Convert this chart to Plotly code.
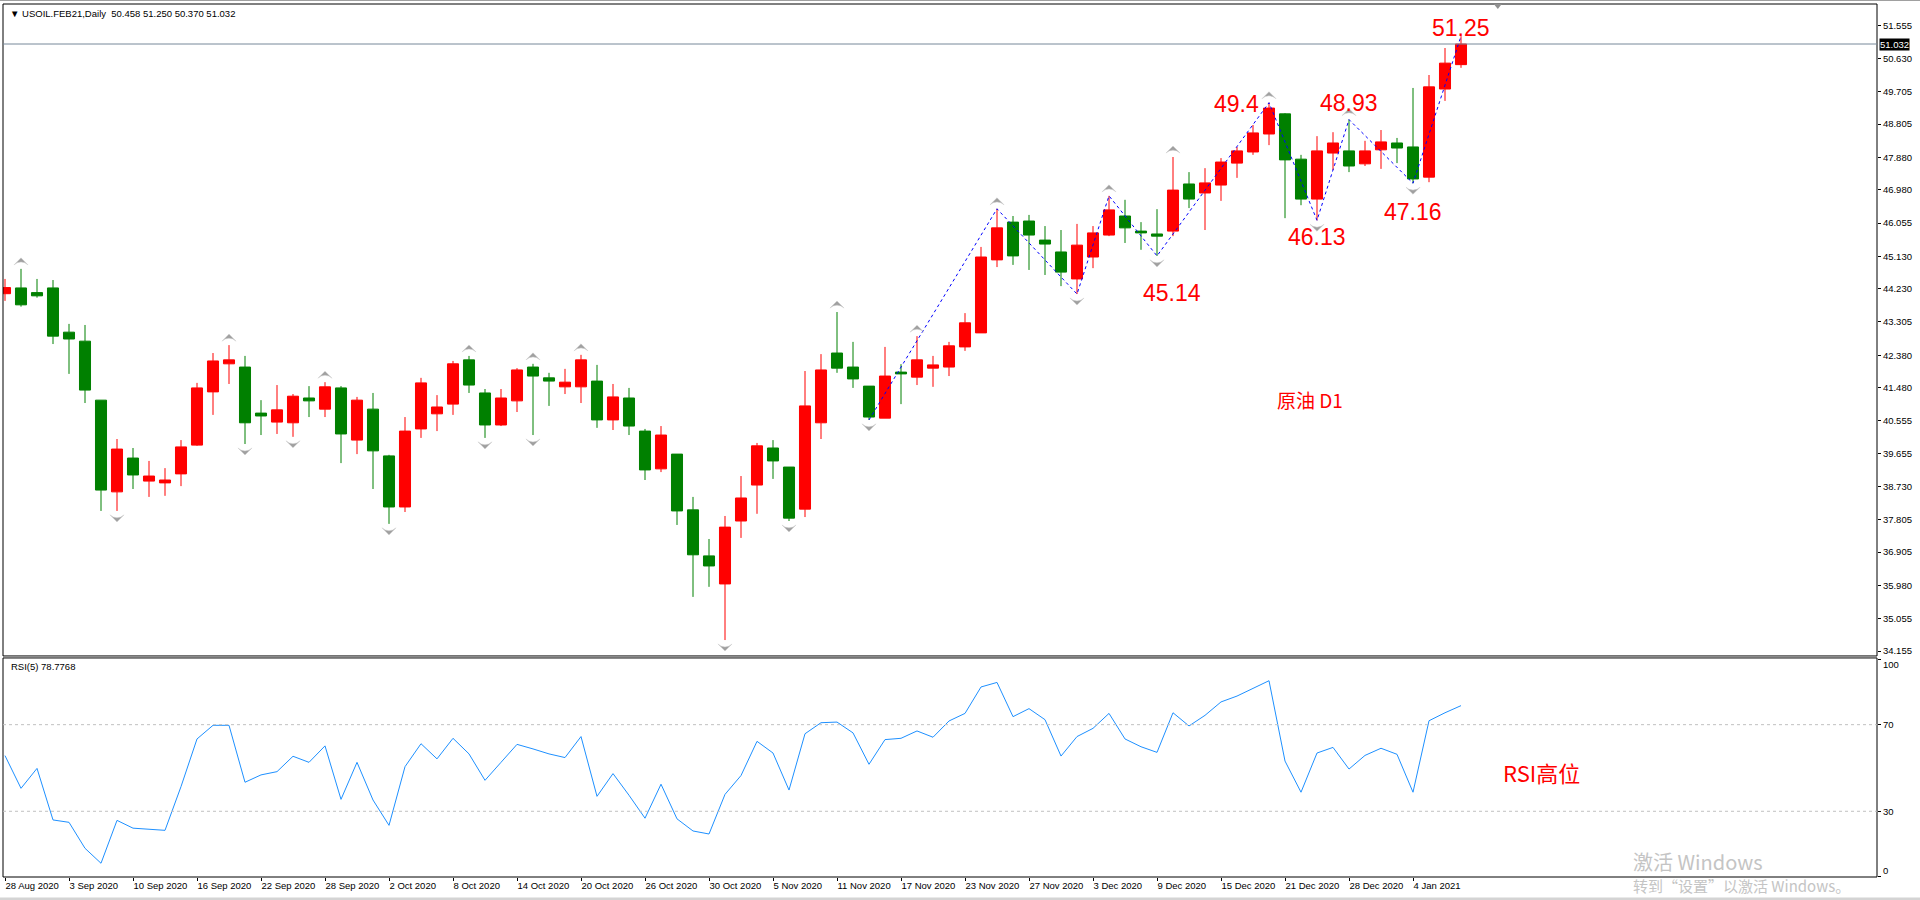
import plotly.graph_objects as go

# ---- data (USOIL.FEB21, Daily) ----
date_labels = [
    "28 Aug 2020", "3 Sep 2020", "10 Sep 2020", "16 Sep 2020", "22 Sep 2020",
    "28 Sep 2020", "2 Oct 2020", "8 Oct 2020", "14 Oct 2020", "20 Oct 2020",
    "26 Oct 2020", "30 Oct 2020", "5 Nov 2020", "11 Nov 2020", "17 Nov 2020",
    "23 Nov 2020", "27 Nov 2020", "3 Dec 2020", "9 Dec 2020", "15 Dec 2020",
    "21 Dec 2020", "28 Dec 2020", "4 Jan 2021",
]
label_every = 4

opens = [
    44.09, 44.25, 44.12, 44.25, 43.02, 42.77, 41.13, 38.58, 39.52, 38.88,
    38.83, 39.08, 39.88, 41.36, 42.14, 42.05, 40.77, 40.52, 40.50, 41.19,
    40.88, 41.47, 40.02, 40.88, 39.58, 38.16, 40.33, 40.75, 41.02, 42.25,
    41.33, 40.44, 41.11, 42.05, 41.75, 41.50, 41.50, 41.66, 40.58, 41.19,
    40.27, 39.22, 39.63, 38.08, 36.80, 36.02, 37.77, 38.77, 39.80, 39.27,
    38.10, 40.50, 42.44, 42.05, 41.52, 40.63, 41.91, 41.77, 42.02, 42.05,
    42.61, 43.00, 45.03, 46.08, 46.11, 45.58, 45.25, 44.50, 45.11, 45.72,
    46.25, 45.83, 45.75, 45.83, 47.14, 46.89, 47.11, 47.72, 48.03, 48.53,
    49.09, 47.83, 46.72, 48.00, 48.06, 47.70, 48.09, 48.28, 48.17, 47.33,
    49.78, 50.458,
]
highs = [
    44.50, 44.78, 44.50, 44.47, 43.25, 43.22, 41.13, 40.05, 39.80, 39.44,
    39.24, 40.02, 41.61, 42.44, 42.66, 42.36, 41.13, 41.55, 41.30, 41.52,
    41.63, 41.52, 41.22, 41.33, 39.61, 40.66, 41.75, 41.27, 42.22, 42.36,
    41.44, 41.44, 42.02, 42.14, 41.89, 42.00, 42.39, 42.11, 41.58, 41.47,
    40.33, 40.41, 39.63, 38.44, 37.27, 37.91, 39.02, 39.94, 40.02, 39.27,
    41.94, 42.41, 43.58, 42.75, 41.52, 42.61, 42.13, 42.91, 42.36, 42.75,
    43.55, 45.39, 46.45, 46.25, 46.28, 45.97, 45.86, 46.03, 45.97, 46.81,
    46.70, 46.08, 46.44, 47.89, 47.47, 47.58, 47.86, 48.17, 48.78, 49.40,
    49.11, 47.95, 48.47, 48.58, 48.93, 48.34, 48.64, 48.42, 49.81, 50.17,
    50.92, 51.25,
]
lows = [
    43.89, 43.73, 43.98, 42.69, 41.86, 41.05, 38.05, 38.05, 38.66, 38.44,
    38.47, 38.74, 39.86, 40.72, 41.58, 39.91, 40.16, 40.19, 40.11, 40.66,
    40.66, 39.38, 39.63, 38.66, 37.69, 38.02, 40.08, 40.27, 40.72, 41.33,
    40.08, 40.41, 40.80, 40.16, 40.97, 41.30, 41.05, 40.36, 40.30, 40.16,
    38.91, 39.13, 37.66, 35.66, 35.94, 34.46, 37.30, 37.97, 38.94, 37.77,
    37.88, 40.05, 41.89, 41.47, 40.58, 40.63, 41.02, 41.55, 41.50, 41.80,
    42.50, 43.00, 44.83, 44.89, 44.75, 44.61, 44.30, 44.08, 44.80, 45.69,
    45.50, 45.31, 45.14, 45.69, 46.47, 45.86, 46.67, 47.31, 47.95, 48.22,
    46.19, 46.55, 46.13, 47.53, 47.47, 47.64, 47.56, 47.72, 47.16, 47.19,
    49.45, 50.37,
]
closes = [
    44.26, 43.78, 44.03, 42.91, 42.83, 41.41, 38.63, 39.77, 39.05, 39.02,
    38.91, 39.83, 41.47, 42.22, 42.25, 40.50, 40.69, 40.86, 41.24, 41.11,
    41.50, 40.19, 41.13, 39.72, 38.16, 40.27, 41.61, 40.94, 42.14, 41.55,
    40.44, 41.19, 41.97, 41.80, 41.66, 41.63, 42.25, 40.58, 41.22, 40.41,
    39.19, 40.16, 38.05, 36.83, 36.52, 37.60, 38.41, 39.86, 39.44, 37.85,
    40.97, 41.97, 42.02, 41.72, 40.66, 41.80, 41.86, 42.25, 42.11, 42.64,
    43.28, 45.11, 45.92, 45.14, 45.72, 45.47, 44.69, 45.44, 45.78, 46.42,
    45.92, 45.78, 45.69, 46.97, 46.72, 47.17, 47.75, 48.06, 48.56, 49.25,
    47.81, 46.72, 48.06, 48.28, 47.64, 48.06, 48.31, 48.14, 47.28, 49.84,
    50.50, 51.032,
]
rsi = [
    55.7, 40.6, 49.8, 26.0, 24.9, 12.9, 6.0, 25.8, 22.2, 21.7,
    21.2, 41.4, 63.4, 69.7, 69.7, 43.4, 46.8, 48.3, 55.4, 52.6,
    60.2, 35.5, 52.6, 35.2, 23.5, 50.6, 61.2, 54.2, 63.7, 56.5,
    44.3, 52.6, 60.9, 58.8, 56.5, 54.8, 64.5, 36.9, 47.4, 37.4,
    26.8, 42.5, 26.5, 20.9, 19.5, 37.8, 46.5, 62.3, 56.9, 39.8,
    65.8, 70.9, 71.2, 66.2, 51.7, 63.1, 63.7, 67.1, 64.2, 71.7,
    75.2, 87.4, 89.5, 73.7, 77.4, 72.3, 55.5, 64.5, 68.3, 75.2,
    63.4, 59.8, 57.2, 75.5, 69.4, 74.3, 80.5, 83.2, 86.8, 90.3,
    53.2, 38.8, 56.9, 59.5, 49.5, 55.8, 59.1, 56.3, 38.8, 71.8,
    75.5, 78.7768,
]

price_ticks = [
    51.555, 50.630, 49.705, 48.805, 47.880, 46.980, 46.055, 45.130, 44.230,
    43.305, 42.380, 41.480, 40.555, 39.655, 38.730, 37.805, 36.905, 35.980,
    35.055, 34.155,
]
rsi_levels = [30, 70]
rsi_ticks = [0, 30, 70, 100]

# fractal arrows and zigzag pivots (bar indexes)
up_fractals = [1, 14, 20, 29, 33, 36, 52, 57, 62, 69, 73, 79, 84]
down_fractals = [7, 15, 18, 24, 30, 33, 45, 49, 54, 67, 72, 82, 88]
zigzag_pivots = [(54, "L"), (62, "H"), (67, "L"), (69, "H"), (72, "L"),
                 (79, "H"), (82, "L"), (84, "H"), (88, "L"), (91, "H")]
labelled_pivots = [(72, "L"), (79, "H"), (82, "L"), (84, "H"), (88, "L"), (91, "H")]

symbol = "USOIL.FEB21,Daily"
note_main = "原油 D1"
note_rsi = "RSI高位"

# ---- styling ----
FONT = "Liberation Sans, Arial, sans-serif"
CJK = "Noto Sans CJK SC, Liberation Sans, sans-serif"
UP_RED = "#FF0000"
DOWN_GREEN = "#008000"
PX_PER_PRICE = 35.97

bars = list(range(len(opens)))
px_offset = lambda px: px / PX_PER_PRICE

fig = go.Figure()

fig.add_trace(go.Candlestick(
    x=bars, open=opens, high=highs, low=lows, close=closes,
    increasing=dict(line=dict(color=UP_RED, width=1), fillcolor=UP_RED),
    decreasing=dict(line=dict(color=DOWN_GREEN, width=1), fillcolor=DOWN_GREEN),
    whiskerwidth=0, xaxis="x", yaxis="y", hoverinfo="skip",
))

# zigzag
zz_x = [b for b, _ in zigzag_pivots]
zz_y = [highs[b] if k == "H" else lows[b] for b, k in zigzag_pivots]
fig.add_trace(go.Scatter(
    x=zz_x, y=zz_y, mode="lines", line=dict(color="#0000FF", width=1, dash="dot"),
    xaxis="x", yaxis="y", hoverinfo="skip",
))

# fractal arrows
arrow_style = dict(symbol="arrow-wide", size=10, color="#A0A0A0",
                   line=dict(color="#D0D0D0", width=0.5))
fig.add_trace(go.Scatter(
    x=up_fractals, y=[highs[b] + px_offset(11) for b in up_fractals], mode="markers",
    marker=dict(arrow_style, angle=0),
    xaxis="x", yaxis="y", hoverinfo="skip",
))
fig.add_trace(go.Scatter(
    x=down_fractals, y=[lows[b] - px_offset(11) for b in down_fractals], mode="markers",
    marker=dict(arrow_style, angle=180),
    xaxis="x", yaxis="y", hoverinfo="skip",
))

# RSI
fig.add_trace(go.Scatter(
    x=bars, y=rsi, mode="lines", line=dict(color="#1E90FF", width=1),
    xaxis="x", yaxis="y2", hoverinfo="skip",
))

shapes = [
    dict(type="rect", xref="paper", yref="y domain", x0=0, x1=1, y0=0, y1=1,
         line=dict(color="black", width=1)),
    dict(type="rect", xref="paper", yref="y2 domain", x0=0, x1=1, y0=0, y1=1,
         line=dict(color="black", width=1)),
    dict(type="line", xref="paper", yref="y", x0=0, x1=1, y0=closes[-1], y1=closes[-1],
         line=dict(color="#778899", width=1)),
    # window frame bits
    dict(type="rect", xref="paper", yref="paper", x0=-0.01, x1=1.03, y0=1.0035, y1=1.006,
         line=dict(width=0), fillcolor="#A0A0A0"),
    dict(type="rect", xref="paper", yref="paper", x0=-0.01, x1=1.03, y0=-0.03, y1=-0.0235,
         line=dict(width=0), fillcolor="#D4D4D4"),
    # chart shift marker
    dict(type="path", xref="x", yref="paper", xsizemode="pixel", ysizemode="pixel",
         xanchor=93.3, yanchor=1, path="M -4 0 L 4 0 L 0 -5 Z",
         fillcolor="#909090", line=dict(width=0)),
]
for lvl in rsi_levels:
    shapes.append(dict(type="line", xref="paper", yref="y2", x0=0, x1=1, y0=lvl, y1=lvl,
                       line=dict(color="#C0C0C0", width=1, dash="3px,3px")))

annotations = [
    dict(xref="paper", yref="y domain", x=0, y=1, xanchor="left", yanchor="middle",
         xshift=5, yshift=-9, showarrow=False,
         text="▼ " + symbol + "\u00a0\u00a0" + " ".join(
             f"{v:.3f}" for v in (opens[-1], highs[-1], lows[-1], closes[-1])),
         font=dict(family=FONT, size=9.5, color="black")),
    dict(xref="paper", yref="y2 domain", x=0, y=1, xanchor="left", yanchor="middle",
         xshift=6, yshift=-9, showarrow=False, text=f"RSI(5) {rsi[-1]:.4f}",
         font=dict(family=FONT, size=9.5, color="black")),
    dict(xref="paper", yref="y", x=1, y=closes[-1], xanchor="left", yanchor="middle",
         xshift=2, showarrow=False, text=f"{closes[-1]:.3f}", bgcolor="black",
         borderpad=0, font=dict(family=FONT, size=9.5, color="white")),
    dict(xref="paper", yref="paper", x=0.6975, y=0.5475, xanchor="center", yanchor="middle",
         showarrow=False, text=note_main, font=dict(family=CJK, size=19, color=UP_RED)),
    dict(xref="paper", yref="paper", x=0.8212, y=0.1203, xanchor="center", yanchor="middle",
         showarrow=False, text=note_rsi, font=dict(family=CJK, size=22, color=UP_RED)),
    dict(xref="paper", yref="paper", x=0.8687, y=0.0183, xanchor="left", yanchor="middle",
         showarrow=False, text="激活 Windows",
         font=dict(family=CJK, size=20, color="#C4C4C4")),
    dict(xref="paper", yref="paper", x=0.8687, y=-0.0092, xanchor="left", yanchor="middle",
         showarrow=False, text="转到“设置”以激活 Windows。",
         font=dict(family=CJK, size=15, color="#C4C4C4")),
]

# RSI scale labels on the right
rsi_label_shift = {100: -5, 70: 0, 30: 0, 0: 6}
for lvl in rsi_ticks:
    annotations.append(dict(xref="paper", yref="y2", x=1, y=lvl, xanchor="left",
                            yanchor="middle", xshift=4, yshift=rsi_label_shift[lvl],
                            showarrow=False, text=str(lvl),
                            font=dict(family=FONT, size=9.5, color="black")))

# pivot price labels
label_shift = {72: (15, -37), 79: (-33, -1), 82: (0, -17), 84: (0, 17), 88: (0, -29), 91: (0, 8)}
for b, k in labelled_pivots:
    v = highs[b] if k == "H" else lows[b]
    dx, dy = label_shift[b]
    annotations.append(dict(xref="x", yref="y", x=b, y=v, xshift=dx, yshift=dy,
                            showarrow=False, text=f"{v:g}",
                            font=dict(family=FONT, size=23, color=UP_RED)))

fig.update_layout(
    width=1920, height=900,
    margin=dict(l=3, r=43, t=4, b=23, pad=0),
    paper_bgcolor="white", plot_bgcolor="white",
    showlegend=False, hovermode=False,
    boxgap=0, boxgroupgap=0.31,
    xaxis=dict(
        range=[-0.125, 117.0], anchor="y2", showgrid=False, zeroline=False,
        showline=False, rangeslider=dict(visible=False),
        tickvals=bars[::label_every], ticktext=date_labels,
        ticks="outside", ticklen=3, tickcolor="black",
        ticklabelposition="outside right",
        tickfont=dict(family=FONT, size=9.5, color="black"),
    ),
    yaxis=dict(
        domain=[0.2532, 1], range=[34.018, 52.144], side="right",
        showgrid=False, zeroline=False, showline=False,
        tickvals=price_ticks, ticktext=[f"{v:.3f}" for v in price_ticks],
        ticks="outside", ticklen=3, tickcolor="black",
        tickfont=dict(family=FONT, size=9.5, color="black"),
    ),
    yaxis2=dict(
        domain=[0, 0.2509], range=[-0.35, 100.8], side="right",
        showgrid=False, zeroline=False, showline=False,
        tickvals=rsi_ticks, showticklabels=False,
        ticks="outside", ticklen=3, tickcolor="black",
    ),
    shapes=shapes,
    annotations=annotations,
)

# the page is photographed as-is, so drop the default body margin
fig.write_html("out.html", config={"displayModeBar": False},
               post_script="document.body.style.margin='0';document.body.style.overflow='hidden';")
